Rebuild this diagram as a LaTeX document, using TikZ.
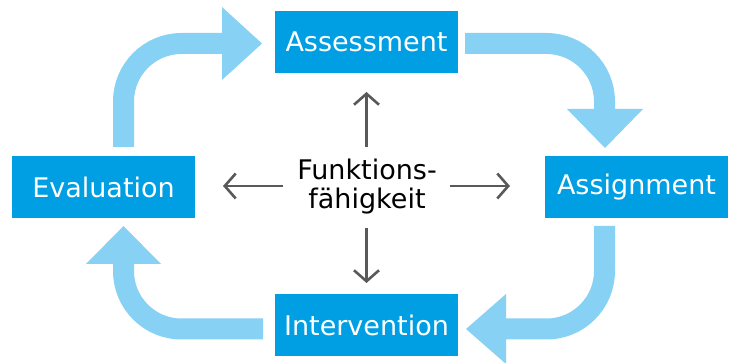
\documentclass[tikz,border=0pt]{standalone}
\usepackage{fontspec}
\setmainfont{DejaVu Sans}
\usetikzlibrary{arrows.meta}
\definecolor{boxblue}{RGB}{0,159,227}
\definecolor{arrowblue}{RGB}{135,209,245}
\definecolor{grayc}{RGB}{89,89,89}
\begin{document}
\begin{tikzpicture}[x=1pt,y=-1pt,
  box/.style={fill=boxblue,text=white,minimum width=183pt,minimum height=62pt,inner sep=0pt,font=\fontsize{27}{30}\selectfont},
  shaft/.style={draw=arrowblue,line width=21pt,rounded corners=58pt},
  head/.style={fill=arrowblue},
  grayarrow/.style={draw=grayc,line width=2.6pt,-{Straight Barb[length=11pt,width=25pt]}}]
\useasboundingbox (0,0) rectangle (732,363);
\node[box] (ass) at (366.5,42) {Assessment};
\node[box] (eva) at (103.5,187) {Evaluation};
\node[box] (asg) at (636.5,187) {Assignment};
\node[box] (int) at (366.5,325) {Intervention};
\node[align=center,font=\fontsize{27}{29}\selectfont] (f) at (367,187) {Funktions-\\fähigkeit};
% thick cycle arrows
\coordinate (a1s) at (123.5,147); \coordinate (a1e) at (222,43.5);
\draw[shaft] (a1s) |- (a1e);
\fill[head] (222,7) -- (262,43.5) -- (222,80) -- cycle;
\coordinate (a2s) at (465,43.5); \coordinate (a2e) at (604.5,109);
\draw[shaft] (a2s) -| (a2e);
\fill[head] (567,109) -- (605,148) -- (643,109) -- cycle;
\coordinate (a3s) at (604.5,226); \coordinate (a3e) at (506,329);
\draw[shaft] (a3s) |- (a3e);
\fill[head] (506,294) -- (466,329) -- (506,364) -- cycle;
\coordinate (a4s) at (263,329); \coordinate (a4e) at (123.5,264);
\draw[shaft] (a4s) -| (a4e);
\fill[head] (86,264) -- (123.5,226) -- (161,264) -- cycle;
% gray arrows
\coordinate (gu0) at (366.5,147); \coordinate (gu1) at (366.5,92);
\coordinate (gd0) at (366.5,228); \coordinate (gd1) at (366.5,283);
\coordinate (gl0) at (283,186); \coordinate (gl1) at (223,186);
\coordinate (gr0) at (450,186); \coordinate (gr1) at (510,186);
\draw[grayarrow] (gu0) -- (gu1);
\draw[grayarrow] (gd0) -- (gd1);
\draw[grayarrow] (gl0) -- (gl1);
\draw[grayarrow] (gr0) -- (gr1);
\end{tikzpicture}
\end{document}
